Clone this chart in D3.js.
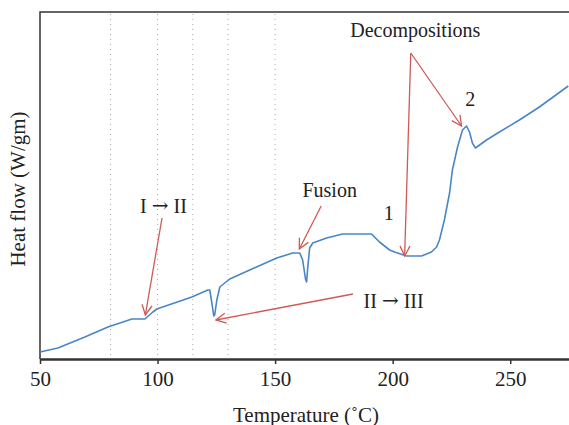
<!DOCTYPE html>
<html>
<head>
<meta charset="utf-8">
<script src="https://cdn.jsdelivr.net/npm/d3@7"></script>
<style>
  body { margin: 0; background: #fff; }
  svg { display: block; }
  text { font-family: "Liberation Serif", "DejaVu Serif", serif; fill: #222; }
</style>
</head>
<body>
<div id="chart"></div>
<script>
// DSC curve (heat flow in arbitrary units)
var temps = [50, 57.6, 69.1, 78.9, 89.1, 94.6, 98.0, 99.7, 114.6, 121.4, 122.2, 123.1, 123.9, 124.3,
  125.2, 126.5, 130.7, 139.2, 150.7, 157.5, 160.5, 161.7, 163.0, 163.4, 163.9, 164.7, 166.0, 171.9,
  178.7, 191.0, 194.4, 198.7, 200.8, 205.9, 212.3, 216.5, 218.7, 219.9, 222.0, 224.2, 225.4, 227.6,
  229.7, 231.4, 232.7, 233.9, 235.2, 239.9, 245.4, 253.9, 262.4, 274.7];
var heatFlow = [0.07, 0.11, 0.22, 0.32, 0.40, 0.40, 0.47, 0.50, 0.62, 0.69, 0.69, 0.56, 0.43, 0.44,
  0.59, 0.72, 0.80, 0.89, 1.01, 1.06, 1.06, 0.99, 0.79, 0.77, 0.92, 1.11, 1.16, 1.21,
  1.25, 1.25, 1.17, 1.09, 1.07, 1.03, 1.03, 1.07, 1.12, 1.19, 1.39, 1.66, 1.89, 2.12,
  2.29, 2.33, 2.27, 2.16, 2.11, 2.19, 2.27, 2.39, 2.52, 2.73];
var xTicks = [50, 100, 150, 200, 250];
var guideTemps = [80, 100, 115, 130, 150];

// annotations: label, label position, arrow start, arrow end (data units)
var notes = [
  { text: "I \u2192 II", lx: 102.5, ly: 1.46, from: [101.9, 1.41], to: [94.8, 0.44] },
  { text: "II \u2192 III", lx: 200.4, ly: 0.51, from: [183.1, 0.65], to: [124.8, 0.39] },
  { text: "Fusion", lx: 173.2, ly: 1.62, from: [169.6, 1.53], to: [160.3, 1.10] },
  { text: "Decompositions", lx: 209.6, ly: 3.22, from: [207.7, 3.06], to: [205.1, 1.03] },
  { text: null, from: [207.7, 3.06], to: [229.3, 2.33] },
  { text: "1", lx: 198.3, ly: 1.39 },
  { text: "2", lx: 233, ly: 2.53 }
];

var W = 569, H = 425;
var mLeft = 40, mTop = 12, mBottom = 359, mRight = 569;

var x = d3.scaleLinear().domain([50, 275]).range([mLeft, mRight]);
var y = d3.scaleLinear().domain([0, 3.47]).range([mBottom, mTop]);

var svg = d3.select("#chart").append("svg")
  .attr("width", W).attr("height", H);

// dotted guides
svg.selectAll(".guide").data(guideTemps).enter().append("line")
  .attr("x1", d => x(d)).attr("x2", d => x(d))
  .attr("y1", mTop + 2).attr("y2", mBottom)
  .attr("stroke", "#aaa").attr("stroke-width", 1)
  .attr("stroke-dasharray", "1,4");

// frame (top + left)
svg.append("path")
  .attr("d", "M" + mLeft + "," + mBottom + "V" + mTop + "H" + (W + 2))
  .attr("fill", "none").attr("stroke", "#333").attr("stroke-width", 1.5);

// x axis
var xAxis = svg.append("g")
  .attr("transform", "translate(0," + mBottom + ")")
  .call(d3.axisBottom(x).tickValues(xTicks).tickSize(5).tickSizeOuter(0));
xAxis.select(".domain").attr("stroke", "#333").attr("stroke-width", 2.5);
xAxis.selectAll(".tick line").attr("stroke", "#333").attr("stroke-width", 1.5);
xAxis.selectAll(".tick text")
  .attr("y", 12)
  .style("font-family", "Liberation Serif, serif")
  .style("font-size", "21px").attr("fill", "#222");

// axis titles
svg.append("text")
  .attr("x", 306).attr("y", 422)
  .attr("text-anchor", "middle")
  .style("font-size", "21px")
  .text("Temperature (\u02DAC)");
svg.append("text")
  .attr("transform", "translate(25,189) rotate(-90)")
  .attr("text-anchor", "middle")
  .style("font-size", "21px")
  .text("Heat flow (W/gm)");

// curve
var pts = temps.map((t, i) => [t, heatFlow[i]]);
var line = d3.line().x(d => x(d[0])).y(d => y(d[1]));
svg.append("path")
  .datum(pts)
  .attr("d", line)
  .attr("fill", "none")
  .attr("stroke", "#4a86c6")
  .attr("stroke-width", 1.6)
  .attr("stroke-linejoin", "round");

// arrowhead marker
var red = "#cf5a55";
svg.append("defs").append("marker")
  .attr("id", "arr")
  .attr("viewBox", "0 0 12 12")
  .attr("refX", 11).attr("refY", 6)
  .attr("markerWidth", 12).attr("markerHeight", 12)
  .attr("markerUnits", "userSpaceOnUse")
  .attr("orient", "auto")
  .append("path")
  .attr("d", "M1,1 L11,6 L1,11")
  .attr("fill", "none").attr("stroke", red).attr("stroke-width", 1.3);

svg.selectAll(".arrow").data(notes.filter(d => d.from)).enter().append("line")
  .attr("x1", d => x(d.from[0])).attr("y1", d => y(d.from[1]))
  .attr("x2", d => x(d.to[0])).attr("y2", d => y(d.to[1]))
  .attr("stroke", red).attr("stroke-width", 1.3)
  .attr("marker-end", "url(#arr)");

// labels; the arrow glyph gets a font where it is drawn long and thin
var labels = svg.selectAll(".note").data(notes.filter(d => d.text)).enter().append("text")
  .attr("x", d => x(d.lx)).attr("y", d => y(d.ly))
  .attr("text-anchor", "middle")
  .style("font-size", "20px");
labels.each(function (d) {
  var parts = d.text.split("\u2192");
  var t = d3.select(this);
  parts.forEach(function (p, i) {
    if (i > 0) t.append("tspan").style("font-family", "DejaVu Serif").style("font-size", "20px").attr("dy", -1).text("\u2192");
    t.append("tspan").attr("dy", i > 0 ? 1 : 0).text(p);
  });
});
</script>
</body>
</html>
